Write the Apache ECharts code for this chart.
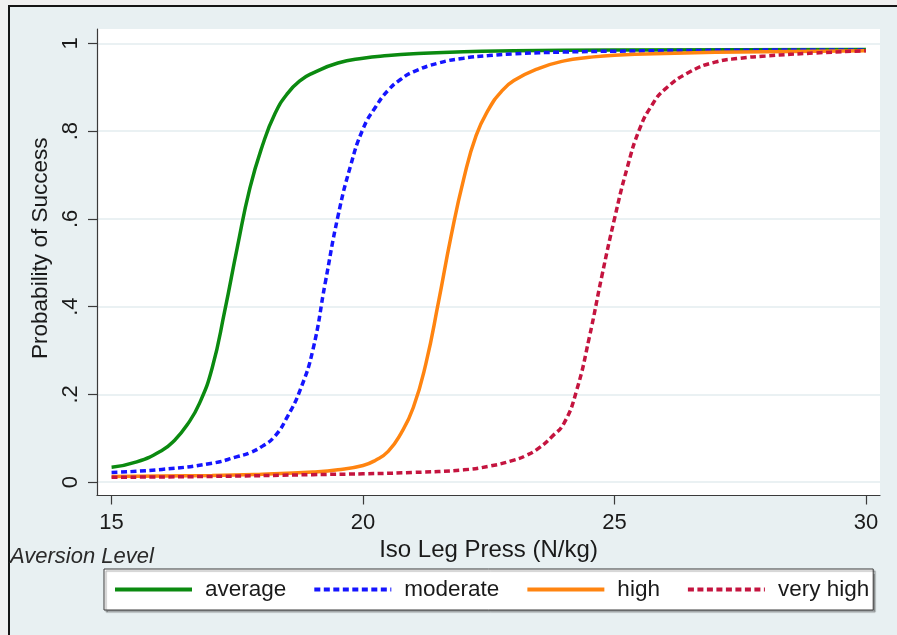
<!DOCTYPE html>
<html>
<head>
<meta charset="utf-8">
<script src="https://cdn.jsdelivr.net/npm/echarts@6/dist/echarts.min.js"></script>
<style>
  html, body { margin: 0; padding: 0; background: #f0f0f0; overflow: hidden; }
  #frame { position: absolute; left: 8px; top: 5px; width: 900px; height: 640px;
           background: #e8f0f2; border-left: 2px solid #151515; border-top: 2px solid #151515; }
  #chart { position: absolute; left: 0; top: 0; width: 897px; height: 635px; }
</style>
</head>
<body>
<div id="frame"></div>
<div id="chart"></div>
<script>
// ---- data ----
const seriesNames = ['average', 'moderate', 'high', 'very high'];

const avgX = [15, 15.5, 16, 16.25, 16.5, 16.75, 17, 17.25, 17.5, 17.75, 18, 18.25, 18.5, 18.75, 19, 19.5, 20, 20.5, 21, 22, 23, 25, 30];
const avgY = [0.034, 0.046, 0.072, 0.095, 0.13, 0.18, 0.26, 0.39, 0.535, 0.67, 0.767, 0.84, 0.886, 0.915, 0.932, 0.955, 0.966, 0.972, 0.976, 0.981, 0.983, 0.985, 0.986];

const modX = [15, 16, 17, 17.5, 17.75, 18, 18.25, 18.5, 18.75, 19, 19.25, 19.5, 19.75, 20, 20.25, 20.5, 20.75, 21, 21.5, 22, 22.5, 23, 24, 25, 27, 30];
const modY = [0.022, 0.029, 0.043, 0.058, 0.067, 0.082, 0.105, 0.15, 0.21, 0.30, 0.455, 0.605, 0.72, 0.805, 0.855, 0.893, 0.918, 0.935, 0.955, 0.966, 0.972, 0.976, 0.98, 0.982, 0.984, 0.985];

const highX = [15, 17, 18, 19, 19.5, 20, 20.25, 20.5, 20.75, 21, 21.25, 21.5, 21.75, 22, 22.25, 22.5, 22.75, 23, 23.5, 24, 24.5, 25, 26, 28, 30];
const highY = [0.013, 0.015, 0.018, 0.023, 0.028, 0.038, 0.05, 0.07, 0.11, 0.17, 0.27, 0.41, 0.56, 0.69, 0.79, 0.85, 0.89, 0.915, 0.943, 0.96, 0.968, 0.973, 0.977, 0.981, 0.983];

const vhighX = [15, 17, 19, 20, 21, 22, 22.5, 23, 23.25, 23.5, 23.75, 24, 24.25, 24.5, 24.75, 25, 25.25, 25.5, 25.75, 26, 26.5, 27, 27.5, 28, 29, 30];
const vhighY = [0.011, 0.013, 0.017, 0.019, 0.022, 0.028, 0.036, 0.05, 0.061, 0.078, 0.103, 0.135, 0.21, 0.33, 0.47, 0.60, 0.715, 0.805, 0.86, 0.895, 0.935, 0.957, 0.966, 0.971, 0.978, 0.983];

const xTicks = [15, 20, 25, 30];
const yTicks = [0, 0.2, 0.4, 0.6, 0.8, 1];
const yTickLabels = ['0', '.2', '.4', '.6', '.8', '1'];

const xTitle = 'Iso Leg Press (N/kg)';
const yTitle = 'Probability of Success';
const legendTitle = 'Aversion Level';

// ---- build chart ----
const FONT = 'Liberation Sans';
const colors = ['#0b8a10', '#1515ff', '#ff8410', '#c4143f'];
const dashes = ['solid', [6, 3.5], 'solid', [6, 3.5]];
const xs = [avgX, modX, highX, vhighX];
const ys = [avgY, modY, highY, vhighY];

function pairs(x, y) { return x.map((v, i) => [v, y[i]]); }

const chart = echarts.init(document.getElementById('chart'), null, { renderer: 'canvas' });

chart.setOption({
  backgroundColor: 'transparent',
  animation: false,
  grid: {
    left: 97, right: 17, top: 29, bottom: 139.5,
    show: true, backgroundColor: '#ffffff', borderWidth: 0
  },
  xAxis: {
    type: 'value',
    min: 14.71, max: 30.28,
    name: xTitle,
    nameLocation: 'middle',
    nameGap: 33,
    nameTextStyle: { fontFamily: FONT, fontSize: 24, color: '#1a1a1a' },
    axisLine: { show: true, onZero: false, lineStyle: { color: '#3a3a3a', width: 1.2 } },
    axisTick: { show: true, length: 9, customValues: xTicks, lineStyle: { color: '#3a3a3a', width: 1.2 } },
    axisLabel: { customValues: xTicks, margin: 16, fontFamily: FONT, fontSize: 22, color: '#1a1a1a' },
    splitLine: { show: false }
  },
  yAxis: {
    type: 'value',
    min: -0.0305, max: 1.0326,
    name: yTitle,
    nameLocation: 'middle',
    nameGap: 31,
    nameRotate: 90,
    nameTextStyle: { fontFamily: FONT, fontSize: 22.5, color: '#1a1a1a', padding: [0, 0, 0, 28] },
    axisLine: { show: true, onZero: false, lineStyle: { color: '#3a3a3a', width: 1.2 } },
    axisTick: { show: true, length: 9, customValues: yTicks, lineStyle: { color: '#3a3a3a', width: 1.2 } },
    axisLabel: {
      customValues: yTicks, rotate: 90, margin: 15,
      fontFamily: FONT, fontSize: 22, color: '#1a1a1a',
      formatter: function (v) {
        const i = yTicks.findIndex(t => Math.abs(t - v) < 1e-9);
        return i >= 0 ? yTickLabels[i] : '';
      }
    },
    splitLine: { show: true, lineStyle: { color: '#eaf1f3', width: 2 } }
  },
  legend: {
    data: seriesNames,
    left: 104, top: 569,
    orient: 'horizontal',
    padding: [9, 4, 9, 9],
    itemWidth: 77, itemHeight: 14, itemGap: 26,
    backgroundColor: '#ffffff',
    borderColor: '#3a3a3a', borderWidth: 1,
    shadowColor: 'rgba(0,0,0,0.35)', shadowBlur: 1, shadowOffsetX: 2, shadowOffsetY: 2,
    itemStyle: { opacity: 0 },
    lineStyle: { width: 4 },
    textStyle: { fontFamily: FONT, fontSize: 22.5, color: '#1a1a1a', padding: [0, 0, 0, 8] }
  },
  graphic: [{
    type: 'text', left: 10, top: 546,
    style: { text: legendTitle, font: 'italic 22px "Liberation Sans"', fill: '#2a2a2a' }
  }],
  series: seriesNames.map((name, i) => ({
    name: name,
    type: 'line',
    data: pairs(xs[i], ys[i]),
    smooth: 0.5,
    symbol: 'none',
    showSymbol: false,
    itemStyle: { color: colors[i] },
    lineStyle: { color: colors[i], width: 3.5, type: dashes[i] },
    z: 2 + i
  }))
});
</script>
</body>
</html>
